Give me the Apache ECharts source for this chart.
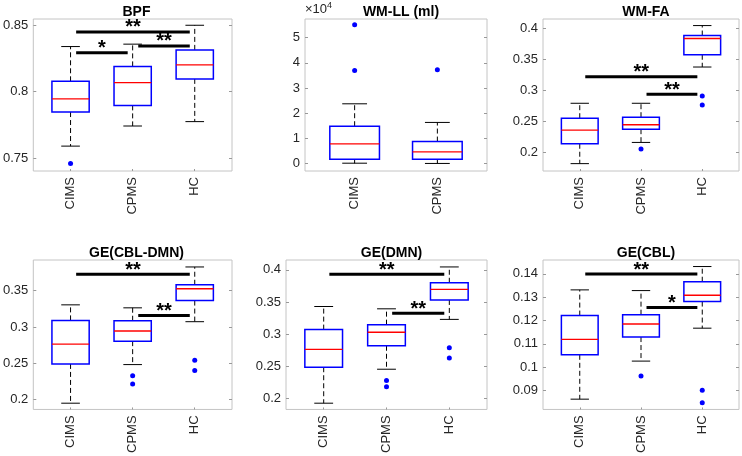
<!DOCTYPE html>
<html><head><meta charset="utf-8">
<script src="https://cdn.jsdelivr.net/npm/echarts@6/dist/echarts.min.js"></script>
<style>html,body{margin:0;padding:0;background:#fff}#c{width:742px;height:456px}</style>
</head><body><div id="c"></div>
<script>
// ---------- DATA ----------
const groups3 = ['CIMS', 'CPMS', 'HC'];
const groups2 = ['CIMS', 'CPMS'];
const titles = ['BPF', 'WM-LL (ml)', 'WM-FA', 'GE(CBL-DMN)', 'GE(DMN)', 'GE(CBL)'];

// box stats: [lower whisker, Q1, median, Q3, upper whisker]
const bpfBoxes = [[0.759, 0.7846, 0.7945, 0.8077, 0.8338], [0.7741, 0.7896, 0.8067, 0.8189, 0.8356], [0.7774, 0.8095, 0.8201, 0.8313, 0.8498]];
const bpfOutliers = [[0.746], [], []];
const bpfSig = [[1, 2, 0.8291, '*'], [1, 3, 0.8448, '**'], [2, 3, 0.8343, '**']];
const bpfTicks = [0.75, 0.8, 0.85];
const bpfRange = [0.7403, 0.8545];

const wmllBoxes = [[100, 1700, 7800, 14800, 23700], [0, 1700, 4600, 8700, 16300]];
const wmllOutliers = [[36900, 55100], [37200]];
const wmllSig = [];
const wmllTicks = [0, 10000, 20000, 30000, 40000, 50000];
const wmllRange = [-3000, 57400];

const wmfaBoxes = [[0.1814, 0.2135, 0.2354, 0.2547, 0.2788], [0.2156, 0.2370, 0.2441, 0.2563, 0.2788], [0.3373, 0.3571, 0.3833, 0.3881, 0.4042]];
const wmfaOutliers = [[], [0.2049], [0.2907, 0.2762]];
const wmfaSig = [[1, 3, 0.3217, '**'], [2, 3, 0.2933, '**']];
const wmfaTicks = [0.2, 0.25, 0.3, 0.35, 0.4];
const wmfaRange = [0.1695, 0.4148];

const geCblDmnBoxes = [[0.195, 0.2491, 0.2764, 0.3091, 0.3305], [0.2482, 0.2805, 0.2945, 0.3086, 0.3264], [0.3073, 0.3364, 0.3527, 0.3582, 0.3827]];
const geCblDmnOutliers = [[], [0.2327, 0.2214], [0.2541, 0.24]];
const geCblDmnSig = [[1, 3, 0.3727, '**'], [2, 3, 0.3159, '**']];
const geCblDmnTicks = [0.2, 0.25, 0.3, 0.35];
const geCblDmnRange = [0.1864, 0.3923];

const geDmnBoxes = [[0.1928, 0.2487, 0.2764, 0.3072, 0.3431], [0.2456, 0.2821, 0.3031, 0.3149, 0.3395], [0.3231, 0.3533, 0.3697, 0.38, 0.4046]];
const geDmnOutliers = [[], [0.2282, 0.2185], [0.279, 0.2631]];
const geDmnSig = [[1, 3, 0.3933, '**'], [2, 3, 0.3328, '**']];
const geDmnTicks = [0.2, 0.25, 0.3, 0.35, 0.4];
const geDmnRange = [0.1831, 0.4154];

const geCblBoxes = [[0.0863, 0.1053, 0.1119, 0.1221, 0.1331], [0.1026, 0.1129, 0.1185, 0.1225, 0.1328], [0.1167, 0.1281, 0.1308, 0.1366, 0.1431]];
const geCblOutliers = [[], [0.0962], [0.0901, 0.0848]];
const geCblSig = [[1, 3, 0.1399, '**'], [2, 3, 0.1256, '*']];
const geCblTicks = [0.09, 0.1, 0.11, 0.12, 0.13, 0.14];
const geCblRange = [0.0819, 0.1459];

// ---------- LAYOUT / STYLE ----------
const panels = [
  {cats: groups3, boxes: bpfBoxes, outs: bpfOutliers, sig: bpfSig, ticks: bpfTicks, range: bpfRange, grid: {left: 31, top: 19, width: 201, height: 152}},
  {cats: groups2, boxes: wmllBoxes, outs: wmllOutliers, sig: wmllSig, ticks: wmllTicks, range: wmllRange, grid: {left: 305, top: 19, width: 182, height: 152}, scale: 1e4},
  {cats: groups3, boxes: wmfaBoxes, outs: wmfaOutliers, sig: wmfaSig, ticks: wmfaTicks, range: wmfaRange, grid: {left: 543, top: 19, width: 196, height: 152}},
  {cats: groups3, boxes: geCblDmnBoxes, outs: geCblDmnOutliers, sig: geCblDmnSig, ticks: geCblDmnTicks, range: geCblDmnRange, grid: {left: 31, top: 260, width: 201, height: 151}},
  {cats: groups3, boxes: geDmnBoxes, outs: geDmnOutliers, sig: geDmnSig, ticks: geDmnTicks, range: geDmnRange, grid: {left: 286, top: 260, width: 201, height: 151}},
  {cats: groups3, boxes: geCblBoxes, outs: geCblOutliers, sig: geCblSig, ticks: geCblTicks, range: geCblRange, grid: {left: 543, top: 260, width: 196, height: 151}}
];

const FONT = '"Liberation Sans", Arial, Helvetica, sans-serif';
const TXT = '#262626';
const FRAME = '#c4c4c4';
const BOX_HW = 0.3, CAP_HW = 0.15;

const chart = echarts.init(document.getElementById('c'), null, {renderer: 'canvas'});
const option = {
  backgroundColor: '#fff', animation: false,
  textStyle: {fontFamily: FONT},
  title: [], grid: [], xAxis: [], yAxis: [], series: [], graphic: []
};

function fmt(v, scale) {
  const x = scale ? v / scale : v;
  return String(+x.toFixed(4));
}

panels.forEach((p, i) => {
  const g = p.grid;
  option.grid.push({left: g.left, top: g.top, width: g.width, height: g.height, show: true, borderColor: FRAME, borderWidth: 1, backgroundColor: 'transparent', containLabel: false});
  option.title.push({
    text: titles[i], left: g.left + g.width / 2, top: g.top - 19, textAlign: 'center',
    textStyle: {fontFamily: FONT, fontSize: 14, fontWeight: 'bold', color: '#000'}
  });
  const n = p.cats.length;
  const catIdx = p.cats.map((c, k) => k + 1);
  option.xAxis.push({
    type: 'value', gridIndex: i, min: 0.4, max: n + 0.6,
    axisLine: {show: false}, splitLine: {show: false},
    axisTick: {show: true, inside: true, length: 2, customValues: catIdx, lineStyle: {color: '#999'}},
    axisLabel: {show: true, customValues: catIdx, rotate: 90, margin: 6, fontSize: 13, color: TXT, fontFamily: FONT,
      formatter: v => p.cats[Math.round(v) - 1] || ''}
  });
  const yBase = {
    type: 'value', gridIndex: i, min: p.range[0], max: p.range[1],
    axisLine: {show: false}, splitLine: {show: false}
  };
  option.yAxis.push(Object.assign({}, yBase, {
    position: 'left',
    axisTick: {show: true, inside: true, length: 3, customValues: p.ticks, lineStyle: {color: '#999'}},
    axisLabel: {show: true, customValues: p.ticks, margin: 5, fontSize: 13, color: TXT, fontFamily: FONT, formatter: v => fmt(v, p.scale)}
  }));
  const yi = option.yAxis.length - 1;
  option.yAxis.push(Object.assign({}, yBase, {
    position: 'right',
    axisTick: {show: true, inside: true, length: 3, customValues: p.ticks, lineStyle: {color: '#999'}},
    axisLabel: {show: false}
  }));

  // boxes
  option.series.push({
    type: 'custom', xAxisIndex: i, yAxisIndex: yi, silent: true,
    data: p.boxes.map((b, k) => [k + 1].concat(b)),
    renderItem: (params, api) => {
      const x = api.value(0);
      const lo = api.value(1), q1 = api.value(2), med = api.value(3), q3 = api.value(4), hi = api.value(5);
      const pL = api.coord([x - BOX_HW, q3]), pR = api.coord([x + BOX_HW, q1]);
      const c = api.coord([x, med]);
      const cL = api.coord([x - CAP_HW, hi]), cR = api.coord([x + CAP_HW, hi]);
      const dL = api.coord([x - CAP_HW, lo]), dR = api.coord([x + CAP_HW, lo]);
      const pq3 = api.coord([x, q3]), pq1 = api.coord([x, q1]);
      const dash = {stroke: '#000', lineWidth: 1, lineDash: [5, 3]};
      return {
        type: 'group', children: [
          {type: 'line', shape: {x1: pq3[0], y1: pq3[1], x2: cL[0] + (cR[0] - cL[0]) / 2, y2: cL[1]}, style: dash},
          {type: 'line', shape: {x1: pq1[0], y1: pq1[1], x2: dL[0] + (dR[0] - dL[0]) / 2, y2: dL[1]}, style: dash},
          {type: 'line', shape: {x1: cL[0], y1: cL[1], x2: cR[0], y2: cR[1]}, style: {stroke: '#000', lineWidth: 1}},
          {type: 'line', shape: {x1: dL[0], y1: dL[1], x2: dR[0], y2: dR[1]}, style: {stroke: '#000', lineWidth: 1}},
          {type: 'rect', shape: {x: pL[0], y: pL[1], width: pR[0] - pL[0], height: pR[1] - pL[1]}, style: {fill: '#fff', stroke: '#0000ff', lineWidth: 1.5}},
          {type: 'line', shape: {x1: pL[0], y1: c[1], x2: pR[0], y2: c[1]}, style: {stroke: '#ff0000', lineWidth: 1.3}}
        ]
      };
    }
  });
  // outliers
  const outData = [];
  p.outs.forEach((arr, k) => arr.forEach(v => outData.push([k + 1, v])));
  option.series.push({
    type: 'scatter', xAxisIndex: i, yAxisIndex: yi, silent: true, symbol: 'circle', symbolSize: 5,
    itemStyle: {color: '#0000ff', opacity: 1}, data: outData
  });
  // significance bars
  if (p.sig.length) {
    option.series.push({
      type: 'custom', xAxisIndex: i, yAxisIndex: yi, silent: true, z: 5,
      data: p.sig.map(s => [s[0], s[1], s[2]]),
      renderItem: (params, api) => {
        const s = p.sig[params.dataIndex];
        const a = api.coord([api.value(0) + 0.09, api.value(2)]);
        const b = api.coord([api.value(1) - 0.08, api.value(2)]);
        return {
          type: 'group', children: [
            {type: 'line', shape: {x1: a[0], y1: a[1], x2: b[0], y2: b[1]}, style: {stroke: '#000', lineWidth: 3}},
            {type: 'text', x: (a[0] + b[0]) / 2, y: a[1] - 4, style: {text: s[3], fill: '#000', font: 'bold 20px ' + FONT, align: 'center', verticalAlign: 'middle'}}
          ]
        };
      }
    });
  }
  if (p.scale) {
    option.graphic.push({
      type: 'text', left: g.left, top: 1,
      style: {text: '×10{s|4}', rich: {s: {fontSize: 9, verticalAlign: 'top', fill: TXT, padding: [0, 0, 8, 0]}}, fill: TXT, font: '13px ' + FONT}
    });
  }
});

chart.setOption(option);
</script>
</body></html>
